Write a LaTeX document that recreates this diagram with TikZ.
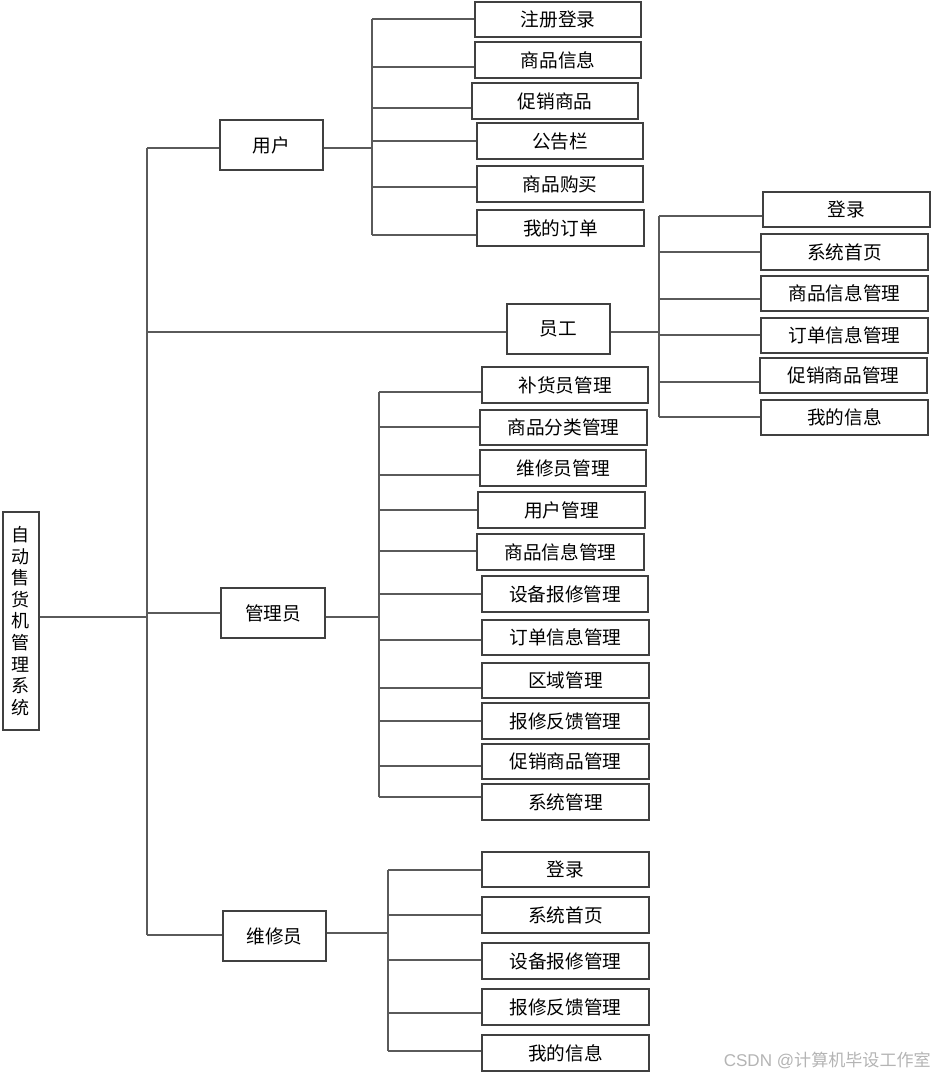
\documentclass[tikz,border=0pt]{standalone}
\usepackage{fontspec}
\setmainfont{Liberation Sans}
\newfontfamily\cjk{Noto Sans CJK SC}
\definecolor{boxc}{HTML}{404040}
\definecolor{lnc}{HTML}{5A5A5A}
\definecolor{wmc}{HTML}{B4B4B4}
% box from pixel corners: name, x1, y1, x2, y2, text
\newcommand\pbox[6]{%
  \node[box, minimum width={(#4-#2)*0.75pt}, minimum height={(#5-#3)*0.75pt}]
    (#1) at ({(#2+#4)/2},{(#3+#5)/2}) {#6};}
% leaf box: name, x1, y1, x2, y2, text, bus x, line y
\newcommand\leaf[8]{%
  \pbox{#1}{#2}{#3}{#4}{#5}{#6}
  \coordinate (#1-b) at (#7,#8);
  \draw[ln] (#1-b) -- (#1.west |- #1-b);}
\begin{document}
\begin{tikzpicture}[x=0.75pt,y=-0.75pt,
  box/.style={draw=boxc, line width=0.8pt, inner sep=0pt, font=\cjk\fontsize{14}{16}\selectfont},
  ln/.style={draw=lnc, line width=0.8pt}]
\useasboundingbox (0,0) rectangle (935,1077);

% root
\node[box, minimum width={36*0.75pt}, minimum height={218*0.75pt}, align=center,
  font=\cjk\fontsize{13.5}{16.2}\selectfont] (root) at (21,621) {自\\动\\售\\货\\机\\管\\理\\系\\统};

% second level
\pbox{yh}{220}{120}{323}{170}{用户}
\pbox{yg}{507}{304}{610}{354}{员工}
\pbox{gly}{221}{588}{325}{638}{管理员}
\pbox{wxy}{223}{911}{326}{961}{维修员}

% trunk
\coordinate (tt) at (147,148);
\coordinate (tb) at (147,935);
\coordinate (t2) at (147,332);
\coordinate (t3) at (147,613);
\coordinate (t0) at (147,617);
\draw[ln] (tt) -- (tb);
\draw[ln] (root.east |- t0) -- (t0);
\draw[ln] (tt) -- (yh.west |- tt);
\draw[ln] (t2) -- (yg.west |- t2);
\draw[ln] (t3) -- (gly.west |- t3);
\draw[ln] (tb) -- (wxy.west |- tb);

% user branch
\coordinate (ub1) at (372,19);
\coordinate (ub2) at (372,235);
\coordinate (uj) at (372,148);
\draw[ln] (ub1) -- (ub2);
\draw[ln] (yh.east |- uj) -- (uj);
\leaf{u1}{475}{2}{641}{37}{注册登录}{372}{19}
\leaf{u2}{475}{42}{641}{78}{商品信息}{372}{67}
\leaf{u3}{472}{83}{638}{119}{促销商品}{372}{108}
\leaf{u4}{477}{123}{643}{159}{公告栏}{372}{141}
\leaf{u5}{477}{166}{643}{202}{商品购买}{372}{187}
\leaf{u6}{477}{210}{644}{246}{我的订单}{372}{235}

% staff branch
\coordinate (sb1) at (659,216);
\coordinate (sb2) at (659,417);
\coordinate (sj) at (659,332);
\draw[ln] (sb1) -- (sb2);
\draw[ln] (yg.east |- sj) -- (sj);
\leaf{s1}{763}{192}{930}{227}{登录}{659}{216}
\leaf{s2}{761}{234}{928}{270}{系统首页}{659}{252}
\leaf{s3}{761}{276}{928}{311}{商品信息管理}{659}{299}
\leaf{s4}{761}{318}{928}{353}{订单信息管理}{659}{335}
\leaf{s5}{760}{358}{927}{393}{促销商品管理}{659}{382}
\leaf{s6}{761}{400}{928}{435}{我的信息}{659}{417}

% admin branch
\coordinate (ab1) at (379,392);
\coordinate (ab2) at (379,797);
\coordinate (aj) at (379,617);
\draw[ln] (ab1) -- (ab2);
\draw[ln] (gly.east |- aj) -- (aj);
\leaf{a1}{482}{367}{648}{403}{补货员管理}{379}{392}
\leaf{a2}{480}{410}{647}{445}{商品分类管理}{379}{427}
\leaf{a3}{480}{450}{646}{486}{维修员管理}{379}{475}
\leaf{a4}{478}{492}{645}{528}{用户管理}{379}{510}
\leaf{a5}{477}{534}{644}{570}{商品信息管理}{379}{551}
\leaf{a6}{482}{576}{648}{612}{设备报修管理}{379}{594}
\leaf{a7}{482}{620}{649}{655}{订单信息管理}{379}{640}
\leaf{a8}{482}{663}{649}{698}{区域管理}{379}{688}
\leaf{a9}{482}{703}{649}{739}{报修反馈管理}{379}{721}
\leaf{a10}{482}{744}{649}{779}{促销商品管理}{379}{766}
\leaf{a11}{482}{784}{649}{820}{系统管理}{379}{797}

% repair branch
\coordinate (rb1) at (388,870);
\coordinate (rb2) at (388,1051);
\coordinate (rj) at (388,933);
\draw[ln] (rb1) -- (rb2);
\draw[ln] (wxy.east |- rj) -- (rj);
\leaf{r1}{482}{852}{649}{887}{登录}{388}{870}
\leaf{r2}{482}{897}{649}{933}{系统首页}{388}{915}
\leaf{r3}{482}{943}{649}{979}{设备报修管理}{388}{960}
\leaf{r4}{482}{989}{649}{1025}{报修反馈管理}{388}{1013}
\leaf{r5}{482}{1035}{649}{1071}{我的信息}{388}{1051}

% watermark
\node[anchor=east, inner sep=0pt, text=wmc, font=\fontsize{12.8}{14}\selectfont] (wm) at (931,1060) {CSDN @{\cjk 计算机毕设工作室}};
\end{tikzpicture}
\end{document}
